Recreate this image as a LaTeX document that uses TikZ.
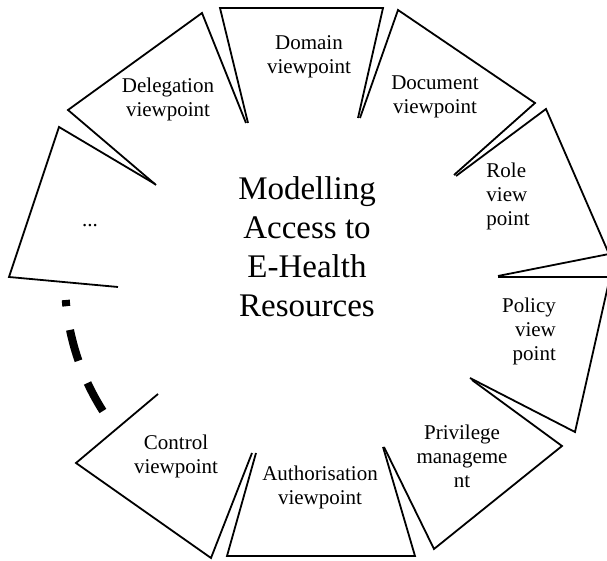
\documentclass[tikz,border=0pt]{standalone}
\usepackage{fontspec}
\setmainfont{Liberation Serif}

\tikzset{
  seg/.style={line width=0.9pt},
  lbl/.style={font=\fontsize{10.5}{12}\selectfont,align=center,inner sep=0pt},
  hub/.style={font=\fontsize{16.5}{19.5}\selectfont,align=center,inner sep=0pt},
}

\begin{document}
\begin{tikzpicture}[x=0.5pt,y=-0.5pt]
  \useasboundingbox (0,0) rectangle (607,561);
  \clip (0,0) rectangle (607,561);
  \draw[seg] (248,123) -- (220,8) -- (383,8) -- (358,118);
  \draw[seg] (360,118) -- (398,10) -- (535,103) -- (454,175);
  \draw[seg] (456,176) -- (546,109) -- (609,254) -- (498,276);
  \draw[seg] (498,277) -- (610,277) -- (575,432) -- (470,378);
  \draw[seg] (472,380) -- (562,446) -- (434,549) -- (384,447);
  \draw[seg] (383,447) -- (415,556) -- (227,556) -- (256,453);
  \draw[seg] (252,453) -- (211,558) -- (76,463) -- (158,394);
  \draw[seg] (118,287) -- (9,277) -- (59,127) -- (155,184);
  \draw[seg] (156,185) -- (68,110) -- (202,13) -- (246,123);
  \draw[line width=4pt,dash pattern=on 16pt off 12pt,domain=147.5:175.5,samples=40]
    plot ({307+242*cos(\x)},{281+242*sin(\x)});
  \node[hub] (hub) at (307,247) {Modelling\\Access to\\E-Health\\Resources};
  \node[lbl] (domain) at (309,57) {Domain\\viewpoint};
  \node[lbl] (document) at (435,97) {Document\\viewpoint};
  \node[lbl,align=left] (role) at (508,196) {Role\\view\\point};
  \node[lbl,align=right] (policy) at (529,331) {Policy\\view\\point};
  \node[lbl] (privilege) at (462,456) {Privilege\\manageme\\nt};
  \node[lbl] (authorisation) at (320,487) {Authorisation\\viewpoint};
  \node[lbl] (control) at (176,456) {Control\\viewpoint};
  \node[lbl] (more) at (90,226) {...};
  \node[lbl] (delegation) at (168,99) {Delegation\\viewpoint};
\end{tikzpicture}
\end{document}
